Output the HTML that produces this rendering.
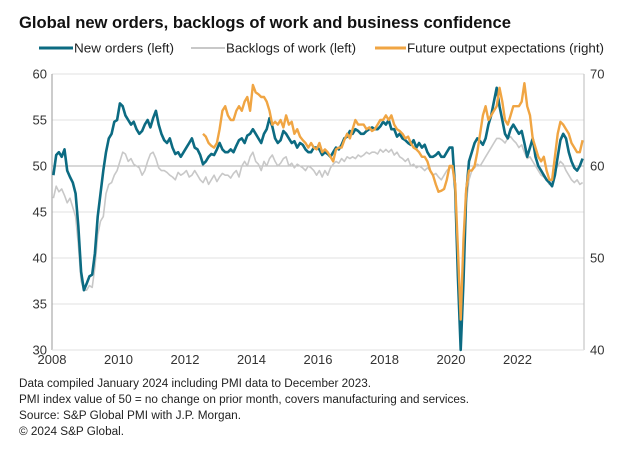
<!DOCTYPE html>
<html><head><meta charset="utf-8"><style>
html,body{margin:0;padding:0;background:#fff;}
svg{display:block;font-family:"Liberation Sans",Arial,sans-serif;}
</style></head><body>
<svg id="chart" width="644" height="454" viewBox="0 0 644 454" xmlns="http://www.w3.org/2000/svg">
<text x="19" y="28" font-size="16.5" font-weight="bold" fill="#111" textLength="492" lengthAdjust="spacingAndGlyphs">Global new orders, backlogs of work and business confidence</text>
<g font-size="13" fill="#222">
<g><line x1="39" y1="48" x2="73" y2="48" stroke="#0c6b82" stroke-width="3"/><text x="74" y="52.5" textLength="100" lengthAdjust="spacingAndGlyphs">New orders (left)</text></g>
<g><line x1="191" y1="48" x2="225" y2="48" stroke="#c8c8c8" stroke-width="2"/><text x="226" y="52.5" textLength="130" lengthAdjust="spacingAndGlyphs">Backlogs of work (left)</text></g>
<g><line x1="375" y1="48" x2="406" y2="48" stroke="#f0a543" stroke-width="3"/><text x="407" y="52.5" textLength="197" lengthAdjust="spacingAndGlyphs">Future output expectations (right)</text></g>
</g>
<g id="grid"></g>
<g id="axes"></g>
<g id="series"></g>
<g font-size="11.5" fill="#222">
<text x="19" y="387" textLength="352" lengthAdjust="spacingAndGlyphs">Data compiled January 2024 including PMI data to December 2023.</text>
<text x="19" y="403" textLength="450" lengthAdjust="spacingAndGlyphs">PMI index value of 50 = no change on prior month, covers manufacturing and services.</text>
<text x="19" y="419" textLength="222" lengthAdjust="spacingAndGlyphs">Source: S&amp;P Global PMI with J.P. Morgan.</text>
<text x="19" y="435" textLength="105" lengthAdjust="spacingAndGlyphs">© 2024 S&amp;P Global.</text>
</g>
</svg>
<script>
const xTickLabels = ["2008","2010","2012","2014","2016","2018","2020","2022"];
const leftTicks = [30,35,40,45,50,55,60];
const rightTicks = [40,50,60,70];
const newOrders = [
49.0,51.2,51.5,51.0,51.8,49.5,48.8,48.2,47.0,43.5,38.5,36.5,
37.2,38.0,38.2,40.5,44.5,47.0,49.5,51.5,53.0,53.5,54.8,55.0,
56.8,56.5,55.5,55.0,54.5,54.8,54.0,53.5,53.8,54.5,55.0,54.2,
55.2,56.0,54.5,53.5,52.8,52.5,53.0,52.0,51.3,51.5,51.0,51.5,
52.0,52.5,53.0,52.0,51.8,51.2,50.2,50.5,51.0,51.3,51.2,51.8,
52.5,51.8,51.5,51.5,51.8,51.5,52.2,52.8,53.0,52.5,53.3,53.5,
54.0,53.5,53.0,52.5,53.5,54.0,55.2,54.3,53.0,52.5,52.8,53.8,
53.5,53.0,52.5,52.7,52.0,52.5,52.3,51.8,51.5,51.5,52.0,52.0,
51.8,51.2,51.5,51.3,51.0,51.5,52.0,51.8,52.3,53.0,53.2,53.8,
53.5,54.0,53.8,53.5,53.5,53.8,54.0,54.2,54.0,54.0,54.3,54.8,
54.5,55.0,54.0,54.0,53.2,53.5,53.0,52.8,52.5,52.3,52.8,52.0,
52.5,52.0,52.3,51.5,51.0,51.0,51.2,51.5,51.0,51.0,51.5,52.0,
52.0,47.5,38.0,30.0,37.5,47.0,50.5,51.5,52.5,53.0,52.7,52.3,
53.0,54.5,55.5,57.0,58.5,56.5,55.0,53.5,53.0,54.0,54.5,54.0,
53.5,53.8,52.5,51.0,52.0,53.0,51.0,50.0,49.5,49.0,48.5,48.2,
47.8,49.0,51.0,52.8,53.5,53.0,51.5,50.5,49.8,49.5,50.0,50.8];
const backlogs = [
46.5,47.8,47.2,47.5,46.8,46.0,46.5,45.5,44.5,41.5,37.5,36.5,
36.5,37.0,36.8,39.0,42.5,44.0,44.5,47.0,48.0,48.2,49.0,49.5,
50.5,51.5,51.3,50.5,50.8,50.2,50.0,49.8,49.0,49.5,50.5,51.3,
51.5,50.8,49.8,49.5,49.5,49.3,49.0,48.8,48.5,49.3,49.0,49.2,
49.5,48.8,49.0,49.5,49.0,48.5,48.2,48.8,48.0,48.5,49.0,48.3,
48.8,49.2,49.0,49.0,48.7,49.2,49.5,48.8,50.0,50.5,50.0,51.0,
51.5,50.5,50.2,49.5,50.5,50.0,50.8,51.2,50.5,50.0,50.3,50.8,
51.0,50.0,50.3,49.8,50.2,50.0,49.8,49.5,50.0,49.8,49.5,49.0,
49.5,48.8,49.5,49.0,49.8,50.2,50.5,50.3,50.8,50.5,51.0,50.8,
51.0,50.8,51.2,51.0,51.2,51.5,51.3,51.5,51.5,51.3,51.8,51.5,
51.8,51.5,51.8,51.2,51.5,51.0,50.8,50.5,50.8,50.0,50.2,49.8,
50.0,49.8,49.5,49.8,49.5,49.0,49.2,48.8,48.5,49.0,49.5,49.8,
49.8,47.0,40.0,33.0,40.0,46.0,48.5,49.5,49.8,50.2,50.0,50.5,
51.0,51.5,52.0,52.5,53.0,53.0,52.8,52.5,53.0,53.2,52.8,52.5,
52.0,52.3,51.5,50.8,51.0,50.5,50.0,49.5,49.0,48.8,48.5,48.0,
48.5,49.5,50.0,50.5,50.2,49.5,49.0,48.5,48.2,48.5,48.0,48.2];
const futureStartMonth = 54; // July 2012
const futureOutput = [
63.5,63.2,62.5,62.2,62.0,62.5,
64.0,66.0,66.5,65.5,65.0,65.0,66.0,66.5,66.0,67.0,67.5,66.0,
68.8,68.0,67.8,67.5,67.5,67.0,66.0,64.5,64.8,64.5,65.0,64.2,
65.5,64.5,64.8,63.5,64.0,63.2,62.8,62.5,62.0,62.5,62.0,61.8,
62.5,61.5,61.8,61.5,61.0,60.5,61.8,62.0,62.0,62.8,63.5,63.0,
64.0,65.0,64.5,64.5,64.5,64.0,64.2,63.8,64.0,64.5,65.0,65.0,
65.5,65.0,65.5,64.5,64.0,63.8,63.5,63.0,63.2,62.5,62.0,61.8,
61.5,61.0,61.0,60.5,59.5,59.0,58.0,57.2,57.3,57.5,58.5,60.0,
60.0,58.0,51.0,43.3,52.0,57.5,59.5,59.5,60.0,61.5,63.5,65.5,
66.5,65.0,65.5,66.0,66.5,68.5,67.0,65.0,64.5,65.5,66.5,66.5,
66.5,67.0,69.0,66.5,65.5,63.0,62.0,61.0,60.5,61.0,59.5,58.5,
58.5,61.0,63.5,64.8,64.5,64.0,63.5,62.5,62.0,61.5,61.5,62.8];

const NS='http://www.w3.org/2000/svg';
const L=52,R=584,T=74,B=350;
const xScale = m => L + m*(R-L)/192;
const yLeft = v => B - (v-30)*(B-T)/30;
const yRight = v => B - (v-40)*(B-T)/30;
function mk(tag,attrs,parent){const e=document.createElementNS(NS,tag);for(const k in attrs)e.setAttribute(k,attrs[k]);parent.appendChild(e);return e;}
const grid=document.getElementById('grid'),axes=document.getElementById('axes'),series=document.getElementById('series');
leftTicks.forEach(v=>{
  const y=yLeft(v);
  if(v>30){const g=mk('line',{x1:L,x2:R,y1:y,y2:y,stroke:v===50?'#b0b0b0':'#e2e2e2','stroke-width':1},grid);
  
  }
  const t=mk('text',{x:47,y:y+4.5,'text-anchor':'end','font-size':13,fill:'#333'},axes);
  t.textContent=v;
  
  
});
rightTicks.forEach(v=>{
  const t=mk('text',{x:590,y:yRight(v)+4.5,'font-size':13,fill:'#333'},axes);
  t.textContent=v;
  
  
});
xTickLabels.forEach((s,i)=>{
  const t=mk('text',{x:xScale(i*24),y:364,'text-anchor':'middle','font-size':13,fill:'#333'},axes);
  t.textContent=s;
  
  
});
const la=mk('line',{x1:L,x2:L,y1:T,y2:B,stroke:'#999'},axes);


const ra=mk('line',{x1:R,x2:R,y1:T,y2:B,stroke:'#bbb'},axes);


const ba=mk('line',{x1:L,x2:R,y1:B,y2:B,stroke:'#e2e2e2'},axes);


function path(vals,start,ys){return vals.map((v,i)=>(i?'L':'M')+xScale(start+i+0.5).toFixed(1)+','+ys(v).toFixed(1)).join('');}
const p1=mk('path',{d:path(backlogs,0,yLeft),fill:'none',stroke:'#c8c8c8','stroke-width':1.6,'stroke-linejoin':'round'},series);


const p2=mk('path',{d:path(newOrders,0,yLeft),fill:'none',stroke:'#0c6b82','stroke-width':2.6,'stroke-linejoin':'round'},series);


const p3=mk('path',{d:path(futureOutput,futureStartMonth,yRight),fill:'none',stroke:'#f0a543','stroke-width':2.4,'stroke-linejoin':'round'},series);


</script>
</body></html>
